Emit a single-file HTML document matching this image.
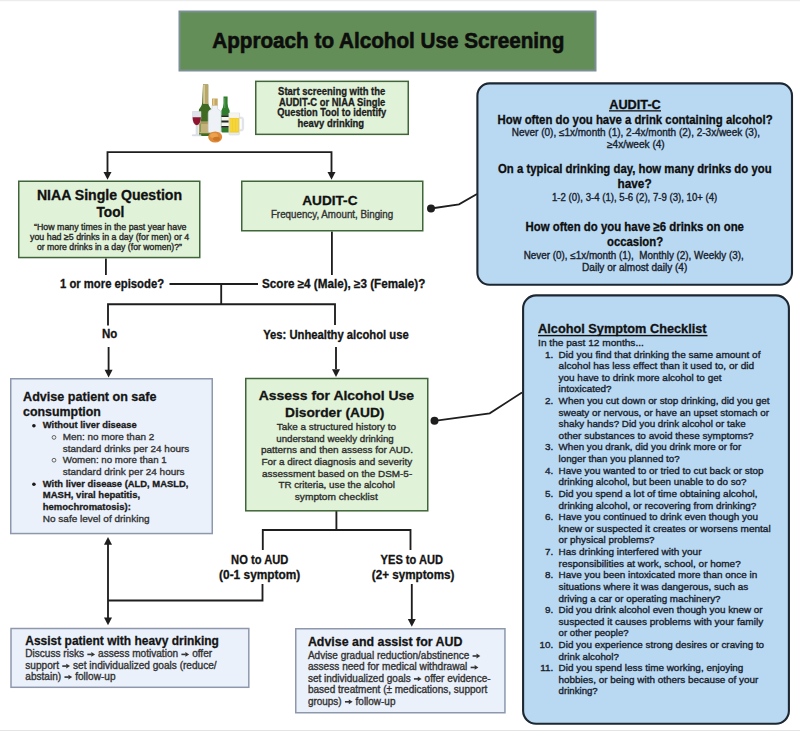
<!DOCTYPE html>
<html><head><meta charset="utf-8"><style>
html,body{margin:0;padding:0;background:#fff;}
body{width:800px;height:731px;overflow:hidden;position:relative;}
svg{position:absolute;left:0;top:0;}
text{font-family:"Liberation Sans", sans-serif;white-space:pre;}
text.r{stroke-width:0.3px;}
</style></head><body>
<svg width="800" height="731" viewBox="0 0 800 731">
<rect x="0" y="0" width="800" height="1.2" fill="#ececec"/>
<rect x="0" y="730" width="800" height="1" fill="#e4e4e4"/>
<!-- title -->
<rect x="179.5" y="11.5" width="416" height="59" fill="#648e57" stroke="#7b8f94" stroke-width="2"/>
<!-- bottles icon placeholder -->
<g id="bottles">
<!-- champagne bottle -->
<path d="M203,84.5 h5.2 v18 q0,3 3.3,7 V134.5 q0,1.5 -1.5,1.5 h-9.6 q-1.5,0 -1.5,-1.5 V109.5 q3.3,-4 3.3,-7 Z" fill="#3f6a22"/>
<path d="M203,84.5 h5.2 v19.5 h-5.2 Z" fill="#b9a66a"/>
<path d="M203.4,85 h1.5 v18.5 h-1.5 Z" fill="#d8cc98"/>
<path d="M199.2,121.5 h12.3 v11.8 h-12.3 Z" fill="#c4b27a"/>
<path d="M199.2,122.5 h12.3 v1 h-12.3 Z" fill="#8f7f45"/>
<path d="M200.5,112 v9 M200.5,124 v8" stroke="#6d9a48" stroke-width="0.8"/>
<!-- wine glass -->
<path d="M192.5,111.5 h8.5 q0.3,8 -1,11 q-1.2,2.5 -2.4,2.7 V134.8 h3.5 v1 h-8.8 v-1 h3.8 V125.2 q-1.6,-0.3 -2.6,-2.7 q-1.2,-3 -1,-11 Z" fill="#dfe3ea" stroke="#c9ced6" stroke-width="0.5"/>
<path d="M192.6,117.3 h8.3 q0,3.6 -1,5.3 q-1.4,2.6 -3.15,2.6 q-1.75,0 -3.15,-2.6 q-1,-1.7 -1,-5.3 Z" fill="#8e1430"/>
<!-- clear bottle -->
<path d="M212,105 h5.6 v4 q3.4,1.2 3.4,4 V131 q0,1.6 -1.6,1.6 h-9.6 q-1.6,0 -1.6,-1.6 V113 q0,-2.8 3.8,-4 Z" fill="#eef2f6" stroke="#c7ced8" stroke-width="0.6"/>
<path d="M212,98.5 h5.7 v7 h-5.7 Z" fill="#c6a660"/>
<path d="M213,99 h1.5 v6 h-1.5 Z" fill="#e2cc92"/>
<!-- orange -->
<ellipse cx="215.2" cy="137" rx="7" ry="5.6" fill="#de8a38"/>
<ellipse cx="214" cy="135.5" rx="4" ry="2.5" fill="#eca24f"/>
<ellipse cx="216.5" cy="138.8" rx="3.5" ry="2" fill="#c97626"/>
<!-- beer bottle -->
<path d="M223.5,96.5 h4.1 v7 q0,4 2,7 V131.5 q0,1.1 -1.1,1.1 h-6 q-1.1,0 -1.1,-1.1 V110.5 q2.1,-3 2.1,-7 Z" fill="#2f7c2c"/>
<path d="M221.4,115.3 h8.2 v12.5 h-8.2 Z" fill="#f4f4ee"/>
<path d="M221.4,115.3 h8.2 v1.8 h-8.2 Z M221.4,120.6 h8.2 v1.8 h-8.2 Z M221.4,126 h8.2 v1.8 h-8.2 Z" fill="#1e2a1e"/>
<path d="M224.3,98 h1 v10 h-1 Z" fill="#5ea457"/>
<!-- beer mug -->
<path d="M239.2,117 h2.2 q2.3,0 2.3,2.5 v9 q0,2.5 -2.3,2.5 h-2.2 v-1.6 h2 q0.9,0 0.9,-1 v-8.8 q0,-1 -0.9,-1 h-2 Z" fill="#e4e6ea" stroke="#cfd3da" stroke-width="0.4"/>
<path d="M228.8,113 h10.8 V133.5 q0,1.5 -1.5,1.5 h-7.8 q-1.5,0 -1.5,-1.5 Z" fill="#e7eaef" stroke="#cfd4db" stroke-width="0.5"/>
<path d="M229.4,117.8 h9.6 V132.6 h-9.6 Z" fill="#f2cf2a"/>
<path d="M229.4,113.2 h9.6 v4.6 h-9.6 Z" fill="#f7f5ea"/>
<path d="M231,119 v12 M234,119 v12 M237,119 v12" stroke="#f8de5a" stroke-width="0.8"/>
</g>

<!-- start box -->
<rect x="255.75" y="81.35" width="152.5" height="53" fill="#e0f2d8" stroke="#3f6538" stroke-width="1.5"/>
<!-- connectors -->
<g fill="none" stroke="#1e1e1e" stroke-width="1.85">
<path d="M107.5,173 V152.1 H331.5 V173"/>
<path d="M105.9,258.5 V275"/>
<path d="M169.5,284 H258"/>
<path d="M221.2,284 V304.2"/>
<path d="M331.9,231.5 V275"/>
<path d="M108,325.5 V304.2 H335 V325"/>
<path d="M108.6,347 V370"/>
<path d="M336,347 V369"/>
<path d="M336.4,510.5 V530 M262.8,550 V530 H410.5 V550"/>
<path d="M262.5,584 V600.5 H108"/>
<path d="M108,544 V618"/>
<path d="M411.8,584 V619"/>
<path d="M431,208.5 L459,204.4 L477,194" stroke-width="1.8"/>
<path d="M434.5,420.8 L489.7,413.3 L522,392.5" stroke-width="1.8"/>
</g>
<g fill="#1e1e1e">
<path d="M103.50,172.00 L111.50,172.00 L107.50,179.80 Z"/>
<path d="M327.50,172.00 L335.50,172.00 L331.50,179.80 Z"/>
<path d="M104.60,369.80 L112.60,369.80 L108.60,377.60 Z"/>
<path d="M332.00,369.20 L340.00,369.20 L336.00,377.00 Z"/>
<path d="M104.00,544.70 L112.00,544.70 L108.00,536.90 Z"/>
<path d="M104.00,617.50 L112.00,617.50 L108.00,625.30 Z"/>
<path d="M407.80,619.00 L415.80,619.00 L411.80,626.80 Z"/>
<circle cx="431" cy="208.5" r="4"/>
<circle cx="434.5" cy="420.8" r="4"/>
</g>
<!-- NIAA -->
<rect x="18.75" y="181.25" width="181" height="76.3" fill="#e0f2d8" stroke="#3f6538" stroke-width="1.5"/>
<!-- AUDIT-C green -->
<rect x="241.75" y="181.25" width="181" height="49.5" fill="#e0f2d8" stroke="#3f6538" stroke-width="1.5"/>
<!-- AUDIT-C blue -->
<rect x="477.4" y="83.4" width="314.6" height="201.4" rx="12" ry="12" fill="#b9d8f1" stroke="#1d2732" stroke-width="2.1"/>
<!-- advise patient -->
<rect x="10.75" y="378.75" width="201.5" height="154.8" fill="#ebf1fb" stroke="#8e98ad" stroke-width="1.5"/>
<!-- assess -->
<rect x="245.75" y="378.5" width="182" height="132.3" fill="#e0f2d8" stroke="#3f6538" stroke-width="1.5"/>
<!-- checklist -->
<rect x="523.1" y="295.4" width="265.8" height="428.4" rx="13" ry="13" fill="#b9d8f1" stroke="#1d2732" stroke-width="2.1"/>
<!-- assist -->
<rect x="11" y="628.5" width="237.8" height="58.8" fill="#ebf1fb" stroke="#8e98ad" stroke-width="1.5"/>
<!-- advise & assist -->
<rect x="295.75" y="628.75" width="209.2" height="84" fill="#ebf1fb" stroke="#8e98ad" stroke-width="1.5"/>
<!-- underlines -->
<rect x="609" y="110.2" width="52" height="1.3" fill="#111"/>
<rect x="538" y="334.9" width="169.5" height="1.4" fill="#111"/>
<!-- bullets -->
<circle cx="33.9" cy="425.8" r="1.8" fill="#1a1a1a"/>
<circle cx="33.9" cy="484.3" r="1.8" fill="#1a1a1a"/>
<circle cx="54" cy="437.4" r="1.9" fill="none" stroke="#555" stroke-width="0.9"/>
<circle cx="54" cy="460.2" r="1.9" fill="none" stroke="#555" stroke-width="0.9"/>

<text x="212.20" y="47.80" font-size="22" font-weight="700" fill="#0d0d0d" stroke="#0d0d0d" stroke-width="0.6" textLength="352.15" lengthAdjust="spacingAndGlyphs">Approach to Alcohol Use Screening</text>
<text x="278.10" y="94.70" font-size="10" font-weight="700" fill="#1c1c1c" stroke="#1c1c1c" stroke-width="0.3" textLength="107.19" lengthAdjust="spacingAndGlyphs">Start screening with the</text>
<text x="278.90" y="105.50" font-size="10" font-weight="700" fill="#1c1c1c" stroke="#1c1c1c" stroke-width="0.3" textLength="106.39" lengthAdjust="spacingAndGlyphs">AUDIT-C or NIAA Single</text>
<text x="277.30" y="116.30" font-size="10" font-weight="700" fill="#1c1c1c" stroke="#1c1c1c" stroke-width="0.3" textLength="108.99" lengthAdjust="spacingAndGlyphs">Question Tool to identify</text>
<text x="297.60" y="127.10" font-size="10" font-weight="700" fill="#1c1c1c" stroke="#1c1c1c" stroke-width="0.3" textLength="66.50" lengthAdjust="spacingAndGlyphs">heavy drinking</text>
<text x="36.90" y="199.80" font-size="13.8" font-weight="700" fill="#111" stroke="#111" stroke-width="0.3" textLength="145.14" lengthAdjust="spacingAndGlyphs">NIAA Single Question</text>
<text x="96.50" y="216.70" font-size="13.8" font-weight="700" fill="#111" stroke="#111" stroke-width="0.3" textLength="27.83" lengthAdjust="spacingAndGlyphs">Tool</text>
<text x="34.00" y="230.00" font-size="9" font-weight="400" fill="#262626" stroke="#262626" stroke-width="0.35" textLength="152.51" lengthAdjust="spacingAndGlyphs">“How many times in the past year have</text>
<text x="30.00" y="239.80" font-size="9" font-weight="400" fill="#262626" stroke="#262626" stroke-width="0.35" textLength="159.21" lengthAdjust="spacingAndGlyphs">you had ≥5 drinks in a day (for men) or 4</text>
<text x="36.90" y="249.70" font-size="9" font-weight="400" fill="#262626" stroke="#262626" stroke-width="0.35" textLength="145.10" lengthAdjust="spacingAndGlyphs">or more drinks in a day (for women)?”</text>
<text x="302.20" y="205.00" font-size="13.3" font-weight="700" fill="#111" stroke="#111" stroke-width="0.3" textLength="55.29" lengthAdjust="spacingAndGlyphs">AUDIT-C</text>
<text x="270.90" y="218.40" font-size="10.2" font-weight="400" fill="#333" stroke="#333" stroke-width="0.35" textLength="122.28" lengthAdjust="spacingAndGlyphs">Frequency, Amount, Binging</text>
<text x="60.00" y="288.00" font-size="12" font-weight="700" fill="#141414" stroke="#141414" stroke-width="0.3" textLength="104.06" lengthAdjust="spacingAndGlyphs">1 or more episode?</text>
<text x="262.00" y="288.00" font-size="12" font-weight="700" fill="#141414" stroke="#141414" stroke-width="0.3" textLength="163.32" lengthAdjust="spacingAndGlyphs">Score ≥4 (Male), ≥3 (Female)?</text>
<text x="102.00" y="337.80" font-size="12" font-weight="700" fill="#141414" stroke="#141414" stroke-width="0.3" textLength="15.32" lengthAdjust="spacingAndGlyphs">No</text>
<text x="263.20" y="338.70" font-size="12" font-weight="700" fill="#141414" stroke="#141414" stroke-width="0.3" textLength="145.49" lengthAdjust="spacingAndGlyphs">Yes: Unhealthy alcohol use</text>
<text x="609.20" y="109.00" font-size="12.8" font-weight="700" fill="#0e0e0e" stroke="#0e0e0e" stroke-width="0.3" textLength="51.64" lengthAdjust="spacingAndGlyphs">AUDIT-C</text>
<text x="497.50" y="124.20" font-size="12.5" font-weight="700" fill="#0e0e0e" stroke="#0e0e0e" stroke-width="0.3" textLength="275.08" lengthAdjust="spacingAndGlyphs">How often do you have a drink containing alcohol?</text>
<text x="511.75" y="136.25" font-size="10" font-weight="400" fill="#17212c" stroke="#17212c" stroke-width="0.35" textLength="248.28" lengthAdjust="spacingAndGlyphs">Never (0), ≤1x/month (1), 2-4x/month (2), 2-3x/week (3),</text>
<text x="607.00" y="147.50" font-size="10" font-weight="400" fill="#17212c" stroke="#17212c" stroke-width="0.35" textLength="57.73" lengthAdjust="spacingAndGlyphs">≥4x/week (4)</text>
<text x="498.00" y="172.90" font-size="12.5" font-weight="700" fill="#0e0e0e" stroke="#0e0e0e" stroke-width="0.3" textLength="273.58" lengthAdjust="spacingAndGlyphs">On a typical drinking day, how many drinks do you</text>
<text x="617.50" y="188.00" font-size="12.5" font-weight="700" fill="#0e0e0e" stroke="#0e0e0e" stroke-width="0.3" textLength="34.10" lengthAdjust="spacingAndGlyphs">have?</text>
<text x="552.00" y="200.70" font-size="10" font-weight="400" fill="#17212c" stroke="#17212c" stroke-width="0.35" textLength="165.32" lengthAdjust="spacingAndGlyphs">1-2 (0), 3-4 (1), 5-6 (2), 7-9 (3), 10+ (4)</text>
<text x="525.60" y="231.00" font-size="12.5" font-weight="700" fill="#0e0e0e" stroke="#0e0e0e" stroke-width="0.3" textLength="218.36" lengthAdjust="spacingAndGlyphs">How often do you have ≥6 drinks on one</text>
<text x="607.00" y="246.00" font-size="12.5" font-weight="700" fill="#0e0e0e" stroke="#0e0e0e" stroke-width="0.3" textLength="56.08" lengthAdjust="spacingAndGlyphs">occasion?</text>
<text x="523.75" y="259.30" font-size="10" font-weight="400" fill="#17212c" stroke="#17212c" stroke-width="0.35" textLength="220.02" lengthAdjust="spacingAndGlyphs">Never (0), ≤1x/month (1),  Monthly (2), Weekly (3),</text>
<text x="582.00" y="270.60" font-size="10" font-weight="400" fill="#17212c" stroke="#17212c" stroke-width="0.35" textLength="105.33" lengthAdjust="spacingAndGlyphs">Daily or almost daily (4)</text>
<text x="23.10" y="400.90" font-size="13.4" font-weight="700" fill="#151515" stroke="#151515" stroke-width="0.3" textLength="133.42" lengthAdjust="spacingAndGlyphs">Advise patient on safe</text>
<text x="23.10" y="415.60" font-size="13.4" font-weight="700" fill="#151515" stroke="#151515" stroke-width="0.3" textLength="77.77" lengthAdjust="spacingAndGlyphs">consumption</text>
<text x="42.80" y="428.20" font-size="9.45" font-weight="700" fill="#1a1a1a" stroke="#1a1a1a" stroke-width="0.3" textLength="93.85" lengthAdjust="spacingAndGlyphs">Without liver disease</text>
<text x="62.70" y="440.00" font-size="9.9" font-weight="400" fill="#333" stroke="#333" stroke-width="0.35" textLength="91.49" lengthAdjust="spacingAndGlyphs">Men: no more than 2</text>
<text x="62.70" y="451.90" font-size="9.9" font-weight="400" fill="#333" stroke="#333" stroke-width="0.35" textLength="126.54" lengthAdjust="spacingAndGlyphs">standard drinks per 24 hours</text>
<text x="62.70" y="463.30" font-size="9.9" font-weight="400" fill="#333" stroke="#333" stroke-width="0.35" textLength="104.00" lengthAdjust="spacingAndGlyphs">Women: no more than 1</text>
<text x="62.70" y="475.20" font-size="9.9" font-weight="400" fill="#333" stroke="#333" stroke-width="0.35" textLength="121.84" lengthAdjust="spacingAndGlyphs">standard drink per 24 hours</text>
<text x="42.80" y="487.00" font-size="9.45" font-weight="700" fill="#1a1a1a" stroke="#1a1a1a" stroke-width="0.3" textLength="145.52" lengthAdjust="spacingAndGlyphs">With liver disease (ALD, MASLD,</text>
<text x="42.80" y="498.10" font-size="9.45" font-weight="700" fill="#1a1a1a" stroke="#1a1a1a" stroke-width="0.3" textLength="97.33" lengthAdjust="spacingAndGlyphs">MASH, viral hepatitis,</text>
<text x="42.80" y="509.60" font-size="9.45" font-weight="700" fill="#1a1a1a" stroke="#1a1a1a" stroke-width="0.3" textLength="88.04" lengthAdjust="spacingAndGlyphs">hemochromatosis):</text>
<text x="42.80" y="521.60" font-size="9.9" font-weight="400" fill="#333" stroke="#333" stroke-width="0.35" textLength="106.70" lengthAdjust="spacingAndGlyphs">No safe level of drinking</text>
<text x="258.75" y="400.30" font-size="13.5" font-weight="700" fill="#141414" stroke="#141414" stroke-width="0.3" textLength="155.24" lengthAdjust="spacingAndGlyphs">Assess for Alcohol Use</text>
<text x="285.00" y="416.80" font-size="13.5" font-weight="700" fill="#141414" stroke="#141414" stroke-width="0.3" textLength="99.41" lengthAdjust="spacingAndGlyphs">Disorder (AUD)</text>
<text x="276.70" y="429.80" font-size="9.9" font-weight="400" fill="#2e2e2e" stroke="#2e2e2e" stroke-width="0.35" textLength="119.39" lengthAdjust="spacingAndGlyphs">Take a structured history to</text>
<text x="276.25" y="441.53" font-size="9.9" font-weight="400" fill="#2e2e2e" stroke="#2e2e2e" stroke-width="0.35" textLength="117.48" lengthAdjust="spacingAndGlyphs">understand weekly drinking</text>
<text x="260.90" y="453.26" font-size="9.9" font-weight="400" fill="#2e2e2e" stroke="#2e2e2e" stroke-width="0.35" textLength="152.15" lengthAdjust="spacingAndGlyphs">patterns and then assess for AUD.</text>
<text x="261.40" y="464.99" font-size="9.9" font-weight="400" fill="#2e2e2e" stroke="#2e2e2e" stroke-width="0.35" textLength="150.84" lengthAdjust="spacingAndGlyphs">For a direct diagnosis and severity</text>
<text x="262.00" y="476.72" font-size="9.9" font-weight="400" fill="#2e2e2e" stroke="#2e2e2e" stroke-width="0.35" textLength="150.19" lengthAdjust="spacingAndGlyphs">assessment based on the DSM-5-</text>
<text x="278.40" y="488.45" font-size="9.9" font-weight="400" fill="#2e2e2e" stroke="#2e2e2e" stroke-width="0.35" textLength="116.59" lengthAdjust="spacingAndGlyphs">TR criteria, use the alcohol</text>
<text x="294.80" y="500.18" font-size="9.9" font-weight="400" fill="#2e2e2e" stroke="#2e2e2e" stroke-width="0.35" textLength="82.94" lengthAdjust="spacingAndGlyphs">symptom checklist</text>
<text x="231.10" y="563.80" font-size="12" font-weight="700" fill="#141414" stroke="#141414" stroke-width="0.3" textLength="57.19" lengthAdjust="spacingAndGlyphs">NO to AUD</text>
<text x="219.10" y="578.90" font-size="12" font-weight="700" fill="#141414" stroke="#141414" stroke-width="0.3" textLength="81.20" lengthAdjust="spacingAndGlyphs">(0-1 symptom)</text>
<text x="380.60" y="563.80" font-size="12" font-weight="700" fill="#141414" stroke="#141414" stroke-width="0.3" textLength="62.39" lengthAdjust="spacingAndGlyphs">YES to AUD</text>
<text x="371.80" y="578.90" font-size="12" font-weight="700" fill="#141414" stroke="#141414" stroke-width="0.3" textLength="82.60" lengthAdjust="spacingAndGlyphs">(2+ symptoms)</text>
<text x="25.30" y="645.00" font-size="13" font-weight="700" fill="#141414" stroke="#141414" stroke-width="0.3" textLength="193.65" lengthAdjust="spacingAndGlyphs">Assist patient with heavy drinking</text>
<text x="25.30" y="657.40" font-size="10" font-weight="400" fill="#333" stroke="#333" stroke-width="0.35" textLength="61.53" lengthAdjust="spacingAndGlyphs">Discuss risks </text>
<text x="95.29" y="657.40" font-size="10" font-weight="400" fill="#333" stroke="#333" stroke-width="0.35" textLength="85.62" lengthAdjust="spacingAndGlyphs"> assess motivation </text>
<text x="189.36" y="657.40" font-size="10" font-weight="400" fill="#333" stroke="#333" stroke-width="0.35" textLength="22.76" lengthAdjust="spacingAndGlyphs"> offer</text>
<text x="25.30" y="669.10" font-size="10" font-weight="400" fill="#333" stroke="#333" stroke-width="0.35" textLength="36.47" lengthAdjust="spacingAndGlyphs">support </text>
<text x="70.25" y="669.10" font-size="10" font-weight="400" fill="#333" stroke="#333" stroke-width="0.35" textLength="146.43" lengthAdjust="spacingAndGlyphs"> set individualized goals (reduce/</text>
<text x="25.30" y="680.10" font-size="10" font-weight="400" fill="#333" stroke="#333" stroke-width="0.35" textLength="38.66" lengthAdjust="spacingAndGlyphs">abstain) </text>
<text x="72.42" y="680.10" font-size="10" font-weight="400" fill="#333" stroke="#333" stroke-width="0.35" textLength="43.14" lengthAdjust="spacingAndGlyphs"> follow-up</text>
<text x="307.90" y="646.20" font-size="13.5" font-weight="700" fill="#141414" stroke="#141414" stroke-width="0.3" textLength="154.57" lengthAdjust="spacingAndGlyphs">Advise and assist for AUD</text>
<text x="307.90" y="659.00" font-size="10" font-weight="400" fill="#333" stroke="#333" stroke-width="0.35" textLength="164.19" lengthAdjust="spacingAndGlyphs">Advise gradual reduction/abstinence </text>
<text x="307.90" y="670.45" font-size="10" font-weight="400" fill="#333" stroke="#333" stroke-width="0.35" textLength="162.22" lengthAdjust="spacingAndGlyphs">assess need for medical withdrawal </text>
<text x="307.90" y="681.90" font-size="10" font-weight="400" fill="#333" stroke="#333" stroke-width="0.35" textLength="105.54" lengthAdjust="spacingAndGlyphs">set individualized goals </text>
<text x="421.84" y="681.90" font-size="10" font-weight="400" fill="#333" stroke="#333" stroke-width="0.35" textLength="68.69" lengthAdjust="spacingAndGlyphs"> offer evidence-</text>
<text x="307.90" y="693.35" font-size="10" font-weight="400" fill="#333" stroke="#333" stroke-width="0.35" textLength="179.38" lengthAdjust="spacingAndGlyphs">based treatment (± medications, support</text>
<text x="307.90" y="704.80" font-size="10" font-weight="400" fill="#333" stroke="#333" stroke-width="0.35" textLength="36.55" lengthAdjust="spacingAndGlyphs">groups) </text>
<text x="352.82" y="704.80" font-size="10" font-weight="400" fill="#333" stroke="#333" stroke-width="0.35" textLength="42.64" lengthAdjust="spacingAndGlyphs"> follow-up</text>
<text x="538.10" y="333.40" font-size="13.5" font-weight="700" fill="#111" stroke="#111" stroke-width="0.3" textLength="168.52" lengthAdjust="spacingAndGlyphs">Alcohol Symptom Checklist</text>
<text x="538.10" y="345.75" font-size="9.9" font-weight="400" fill="#17212c" stroke="#17212c" stroke-width="0.35" textLength="105.76" lengthAdjust="spacingAndGlyphs">In the past 12 months...</text>
<text x="558.60" y="357.50" font-size="9.9" font-weight="400" fill="#17212c" stroke="#17212c" stroke-width="0.35" textLength="201.84" lengthAdjust="spacingAndGlyphs">Did you find that drinking the same amount of</text>
<text x="558.60" y="369.12" font-size="9.9" font-weight="400" fill="#17212c" stroke="#17212c" stroke-width="0.35" textLength="195.50" lengthAdjust="spacingAndGlyphs">alcohol has less effect than it used to, or did</text>
<text x="558.60" y="380.74" font-size="9.9" font-weight="400" fill="#17212c" stroke="#17212c" stroke-width="0.35" textLength="162.84" lengthAdjust="spacingAndGlyphs">you have to drink more alcohol to get</text>
<text x="558.60" y="392.36" font-size="9.9" font-weight="400" fill="#17212c" stroke="#17212c" stroke-width="0.35" textLength="52.79" lengthAdjust="spacingAndGlyphs">intoxicated?</text>
<text x="558.60" y="403.98" font-size="9.9" font-weight="400" fill="#17212c" stroke="#17212c" stroke-width="0.35" textLength="210.94" lengthAdjust="spacingAndGlyphs">When you cut down or stop drinking, did you get</text>
<text x="558.60" y="415.60" font-size="9.9" font-weight="400" fill="#17212c" stroke="#17212c" stroke-width="0.35" textLength="210.49" lengthAdjust="spacingAndGlyphs">sweaty or nervous, or have an upset stomach or</text>
<text x="558.60" y="427.22" font-size="9.9" font-weight="400" fill="#17212c" stroke="#17212c" stroke-width="0.35" textLength="187.00" lengthAdjust="spacingAndGlyphs">shaky hands? Did you drink alcohol or take</text>
<text x="558.60" y="438.84" font-size="9.9" font-weight="400" fill="#17212c" stroke="#17212c" stroke-width="0.35" textLength="195.09" lengthAdjust="spacingAndGlyphs">other substances to avoid these symptoms?</text>
<text x="558.60" y="450.46" font-size="9.9" font-weight="400" fill="#17212c" stroke="#17212c" stroke-width="0.35" textLength="182.60" lengthAdjust="spacingAndGlyphs">When you drank, did you drink more or for</text>
<text x="558.60" y="462.08" font-size="9.9" font-weight="400" fill="#17212c" stroke="#17212c" stroke-width="0.35" textLength="121.00" lengthAdjust="spacingAndGlyphs">longer than you planned to?</text>
<text x="558.60" y="473.70" font-size="9.9" font-weight="400" fill="#17212c" stroke="#17212c" stroke-width="0.35" textLength="204.89" lengthAdjust="spacingAndGlyphs">Have you wanted to or tried to cut back or stop</text>
<text x="558.60" y="485.32" font-size="9.9" font-weight="400" fill="#17212c" stroke="#17212c" stroke-width="0.35" textLength="187.99" lengthAdjust="spacingAndGlyphs">drinking alcohol, but been unable to do so?</text>
<text x="558.60" y="496.94" font-size="9.9" font-weight="400" fill="#17212c" stroke="#17212c" stroke-width="0.35" textLength="198.95" lengthAdjust="spacingAndGlyphs">Did you spend a lot of time obtaining alcohol,</text>
<text x="558.60" y="508.56" font-size="9.9" font-weight="400" fill="#17212c" stroke="#17212c" stroke-width="0.35" textLength="197.69" lengthAdjust="spacingAndGlyphs">drinking alcohol, or recovering from drinking?</text>
<text x="558.60" y="520.18" font-size="9.9" font-weight="400" fill="#17212c" stroke="#17212c" stroke-width="0.35" textLength="199.40" lengthAdjust="spacingAndGlyphs">Have you continued to drink even though you</text>
<text x="558.60" y="531.80" font-size="9.9" font-weight="400" fill="#17212c" stroke="#17212c" stroke-width="0.35" textLength="212.10" lengthAdjust="spacingAndGlyphs">knew or suspected it creates or worsens mental</text>
<text x="558.60" y="543.42" font-size="9.9" font-weight="400" fill="#17212c" stroke="#17212c" stroke-width="0.35" textLength="95.99" lengthAdjust="spacingAndGlyphs">or physical problems?</text>
<text x="558.60" y="555.04" font-size="9.9" font-weight="400" fill="#17212c" stroke="#17212c" stroke-width="0.35" textLength="142.88" lengthAdjust="spacingAndGlyphs">Has drinking interfered with your</text>
<text x="558.60" y="566.66" font-size="9.9" font-weight="400" fill="#17212c" stroke="#17212c" stroke-width="0.35" textLength="182.09" lengthAdjust="spacingAndGlyphs">responsibilities at work, school, or home?</text>
<text x="558.60" y="578.28" font-size="9.9" font-weight="400" fill="#17212c" stroke="#17212c" stroke-width="0.35" textLength="198.69" lengthAdjust="spacingAndGlyphs">Have you been intoxicated more than once in</text>
<text x="558.60" y="589.90" font-size="9.9" font-weight="400" fill="#17212c" stroke="#17212c" stroke-width="0.35" textLength="189.74" lengthAdjust="spacingAndGlyphs">situations where it was dangerous, such as</text>
<text x="558.60" y="601.52" font-size="9.9" font-weight="400" fill="#17212c" stroke="#17212c" stroke-width="0.35" textLength="162.00" lengthAdjust="spacingAndGlyphs">driving a car or operating machinery?</text>
<text x="558.60" y="613.14" font-size="9.9" font-weight="400" fill="#17212c" stroke="#17212c" stroke-width="0.35" textLength="203.99" lengthAdjust="spacingAndGlyphs">Did you drink alcohol even though you knew or</text>
<text x="558.60" y="624.76" font-size="9.9" font-weight="400" fill="#17212c" stroke="#17212c" stroke-width="0.35" textLength="204.64" lengthAdjust="spacingAndGlyphs">suspected it causes problems with your family</text>
<text x="558.60" y="636.38" font-size="9.9" font-weight="400" fill="#17212c" stroke="#17212c" stroke-width="0.35" textLength="70.01" lengthAdjust="spacingAndGlyphs">or other people?</text>
<text x="558.60" y="648.00" font-size="9.9" font-weight="400" fill="#17212c" stroke="#17212c" stroke-width="0.35" textLength="205.49" lengthAdjust="spacingAndGlyphs">Did you experience strong desires or craving to</text>
<text x="558.60" y="659.62" font-size="9.9" font-weight="400" fill="#17212c" stroke="#17212c" stroke-width="0.35" textLength="60.30" lengthAdjust="spacingAndGlyphs">drink alcohol?</text>
<text x="558.60" y="671.24" font-size="9.9" font-weight="400" fill="#17212c" stroke="#17212c" stroke-width="0.35" textLength="184.79" lengthAdjust="spacingAndGlyphs">Did you spend less time working, enjoying</text>
<text x="558.60" y="682.86" font-size="9.9" font-weight="400" fill="#17212c" stroke="#17212c" stroke-width="0.35" textLength="199.79" lengthAdjust="spacingAndGlyphs">hobbies, or being with others because of your</text>
<text x="558.60" y="694.48" font-size="9.9" font-weight="400" fill="#17212c" stroke="#17212c" stroke-width="0.35" textLength="39.15" lengthAdjust="spacingAndGlyphs">drinking?</text>
<text x="545.11" y="357.50" font-size="9.9" font-weight="400" fill="#17212c" stroke="#17212c" stroke-width="0.35" textLength="8.24" lengthAdjust="spacingAndGlyphs">1.</text>
<text x="545.11" y="403.98" font-size="9.9" font-weight="400" fill="#17212c" stroke="#17212c" stroke-width="0.35" textLength="8.24" lengthAdjust="spacingAndGlyphs">2.</text>
<text x="545.11" y="450.46" font-size="9.9" font-weight="400" fill="#17212c" stroke="#17212c" stroke-width="0.35" textLength="8.24" lengthAdjust="spacingAndGlyphs">3.</text>
<text x="545.11" y="473.70" font-size="9.9" font-weight="400" fill="#17212c" stroke="#17212c" stroke-width="0.35" textLength="8.24" lengthAdjust="spacingAndGlyphs">4.</text>
<text x="545.11" y="496.94" font-size="9.9" font-weight="400" fill="#17212c" stroke="#17212c" stroke-width="0.35" textLength="8.24" lengthAdjust="spacingAndGlyphs">5.</text>
<text x="545.11" y="520.18" font-size="9.9" font-weight="400" fill="#17212c" stroke="#17212c" stroke-width="0.35" textLength="8.24" lengthAdjust="spacingAndGlyphs">6.</text>
<text x="545.11" y="555.04" font-size="9.9" font-weight="400" fill="#17212c" stroke="#17212c" stroke-width="0.35" textLength="8.24" lengthAdjust="spacingAndGlyphs">7.</text>
<text x="545.11" y="578.28" font-size="9.9" font-weight="400" fill="#17212c" stroke="#17212c" stroke-width="0.35" textLength="8.24" lengthAdjust="spacingAndGlyphs">8.</text>
<text x="545.11" y="613.14" font-size="9.9" font-weight="400" fill="#17212c" stroke="#17212c" stroke-width="0.35" textLength="8.24" lengthAdjust="spacingAndGlyphs">9.</text>
<text x="539.62" y="648.00" font-size="9.9" font-weight="400" fill="#17212c" stroke="#17212c" stroke-width="0.35" textLength="13.73" lengthAdjust="spacingAndGlyphs">10.</text>
<text x="540.35" y="671.24" font-size="9.9" font-weight="400" fill="#17212c" stroke="#17212c" stroke-width="0.35" textLength="12.99" lengthAdjust="spacingAndGlyphs">11.</text>
<path d="M87.34,654.40 H91.59" stroke="#333" stroke-width="1.60"/><path d="M91.29,652.00 L95.09,654.40 L91.29,656.80 Z" fill="#333"/>
<path d="M181.41,654.40 H185.66" stroke="#333" stroke-width="1.60"/><path d="M185.36,652.00 L189.16,654.40 L185.36,656.80 Z" fill="#333"/>
<path d="M62.27,666.10 H66.54" stroke="#333" stroke-width="1.60"/><path d="M66.24,663.70 L70.04,666.10 L66.24,668.50 Z" fill="#333"/>
<path d="M64.46,677.10 H68.72" stroke="#333" stroke-width="1.60"/><path d="M68.42,674.70 L72.22,677.10 L68.42,679.50 Z" fill="#333"/>
<path d="M472.59,656.00 H476.80" stroke="#333" stroke-width="1.60"/><path d="M476.50,653.60 L480.30,656.00 L476.50,658.40 Z" fill="#333"/>
<path d="M470.62,667.45 H474.90" stroke="#333" stroke-width="1.60"/><path d="M474.60,665.05 L478.40,667.45 L474.60,669.85 Z" fill="#333"/>
<path d="M413.94,678.90 H418.14" stroke="#333" stroke-width="1.60"/><path d="M417.84,676.50 L421.64,678.90 L417.84,681.30 Z" fill="#333"/>
<path d="M344.95,701.80 H349.12" stroke="#333" stroke-width="1.60"/><path d="M348.82,699.40 L352.62,701.80 L348.82,704.20 Z" fill="#333"/>
</svg>
</body></html>
